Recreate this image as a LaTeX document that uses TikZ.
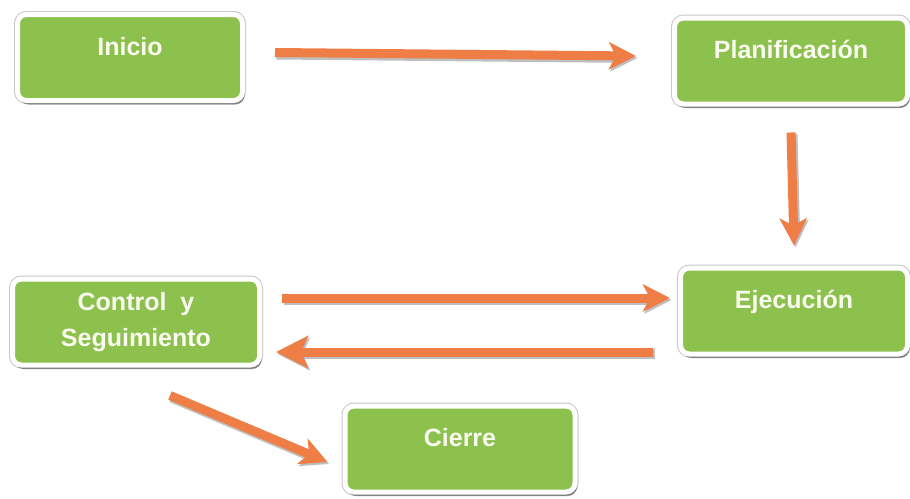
\documentclass[tikz,border=0pt]{standalone}
\usepackage{fontspec}
\setmainfont{Liberation Sans}
\usetikzlibrary{arrows.meta,shadows}

\definecolor{boxgreen}{RGB}{139,193,76}
\definecolor{arroworange}{RGB}{238,126,70}
\definecolor{labelwhite}{RGB}{250,250,240}

\tikzset{
  phase/.style={
    rounded corners=9pt, fill=boxgreen, draw=white, line width=5pt,
    preaction={draw=black!22, line width=7pt},
    drop shadow={shadow xshift=2pt, shadow yshift=-4pt, opacity=0.4, fill=black},
    text=labelwhite, font=\fontsize{25}{30}\selectfont\bfseries,
    align=center, inner sep=0pt, minimum width=#1, minimum height=86pt
  },
  phase/.default=228pt,
  raised/.style={text height=18pt, text depth=23pt},
  headtip/.style={-{Stealth[length=#1, width=#1, inset=7pt]}},
  headtip/.default=27pt,
  flow/.style={
    draw=arroworange, line width=9pt, headtip=#1,
    preaction={draw=black!25, line width=10pt, transform canvas={xshift=1.5pt, yshift=-2pt},
      headtip=#1}
  },
  flow/.default=27pt
}

\begin{document}
\begin{tikzpicture}[x=1pt, y=-1pt]
  \fill[white] (0,0) rectangle (910,498);
  \useasboundingbox (0,0) rectangle (910,498);

  % project phases
  \node[phase=225pt, raised]  (ini) at (130,57.5) {Inicio};
  \node[phase=233pt, raised]  (pla) at (791,61)   {Planificación};
  \node[phase=227pt, raised]  (eje) at (794,311)  {Ejecución};
  \node[phase=247pt]          (con) at (136,322)  {Control\ \ y\\[6pt]Seguimiento};
  \node[phase=230pt, raised]  (cie) at (460,449)  {Cierre};

  % transitions between phases
  \draw[flow] ([xshift=30pt, yshift=5pt]ini.east) -- ([xshift=-36pt, yshift=5pt]pla.west);
  \draw[flow] ([yshift=-26pt]pla.south) -- ([yshift=20pt]eje.north);
  \draw[flow] ([xshift=20pt, yshift=24pt]con.east) -- ([xshift=-8pt, yshift=13pt]eje.west);
  \draw[flow=32pt] ([xshift=-25pt, yshift=-41pt]eje.west) -- ([xshift=14pt, yshift=-30pt]con.east);
  \draw[flow] ([xshift=34pt, yshift=-28pt]con.south) -- ([xshift=-15pt, yshift=-13pt]cie.west);
\end{tikzpicture}
\end{document}
